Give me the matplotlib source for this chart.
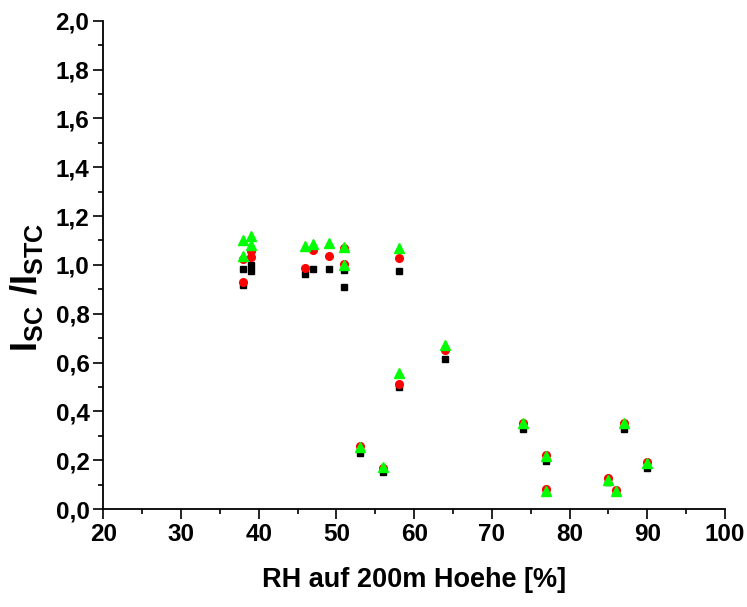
import matplotlib
matplotlib.use("Agg")
import matplotlib.pyplot as plt
from matplotlib.ticker import MultipleLocator, FuncFormatter

rh = [38, 38, 39, 39, 46, 47, 49, 51, 51, 53, 56, 58, 58, 64, 74, 77, 77, 85, 86, 87, 90]
isc_black = [0.984, 0.916, 1.000, 0.975, 0.962, 0.984, 0.984, 0.980, 0.911, 0.228, 0.153,
             0.975, 0.499, 0.615, 0.327, 0.197, 0.072, 0.110, 0.070, 0.327, 0.167]
isc_red = [1.024, 0.928, 1.057, 1.031, 0.986, 1.061, 1.037, 1.068, 1.003, 0.259, 0.169,
           1.030, 0.512, 0.652, 0.353, 0.221, 0.082, 0.126, 0.078, 0.353, 0.194]
isc_green = [1.102, 1.038, 1.117, 1.083, 1.078, 1.085, 1.089, 1.075, 0.999, 0.255, 0.173,
             1.071, 0.559, 0.672, 0.351, 0.217, 0.075, 0.120, 0.072, 0.351, 0.187]

plt.rcParams['font.family'] = ['Liberation Sans', 'DejaVu Sans']
plt.rcParams['font.weight'] = 'bold'
plt.rcParams['mathtext.fontset'] = 'custom'
plt.rcParams['mathtext.rm'] = 'Liberation Sans:bold'
plt.rcParams['mathtext.bf'] = 'Liberation Sans:bold'
plt.rcParams['mathtext.it'] = 'Liberation Sans:bold'

fig = plt.figure(figsize=(7.47, 6.07), dpi=100)
ax = fig.add_axes([0.1383, 0.1614, 0.8322, 0.8045])

ax.plot(rh, isc_black, linestyle='none', marker='s', markersize=5, color='black', zorder=3)
ax.plot(rh, isc_red, linestyle='none', marker='o', markersize=5.5, color='#FF0000', zorder=4)
ax.plot(rh, isc_green, linestyle='none', marker='^', markersize=6.5, color='#00FF00', zorder=5)

ax.set_xlim(20, 100)
ax.set_ylim(0, 2.0)
ax.xaxis.set_major_locator(MultipleLocator(10))
ax.xaxis.set_minor_locator(MultipleLocator(5))
ax.yaxis.set_major_locator(MultipleLocator(0.2))
ax.yaxis.set_minor_locator(MultipleLocator(0.1))
ax.yaxis.set_major_formatter(FuncFormatter(lambda v, p: f"{v:.1f}".replace('.', ',')))
ax.xaxis.set_major_formatter(FuncFormatter(lambda v, p: f"{v:.0f}"))

for s in ['top', 'right']:
    ax.spines[s].set_visible(False)
for s in ['left', 'bottom']:
    ax.spines[s].set_linewidth(1.3)

ax.tick_params(which='major', direction='out', length=7, width=1.2, labelsize=17.5, pad=3)
ax.tick_params(which='minor', direction='out', length=3.7, width=1.2)
for lab in ax.get_xticklabels() + ax.get_yticklabels():
    lab.set_fontweight('bold')

ax.set_xlabel('RH auf 200m Hoehe [%]', fontsize=19.5, fontweight='bold')
ax.xaxis.set_label_coords(0.5, -0.145)
ax.xaxis.label.set_va('center')
ax.set_ylabel(r'$\mathbf{I_{SC}\ /I_{STC}}$', fontsize=26)
ax.yaxis.set_label_coords(-0.123, 0.455)
ax.yaxis.label.set_va('center')

fig.savefig('out.png', dpi=100)
